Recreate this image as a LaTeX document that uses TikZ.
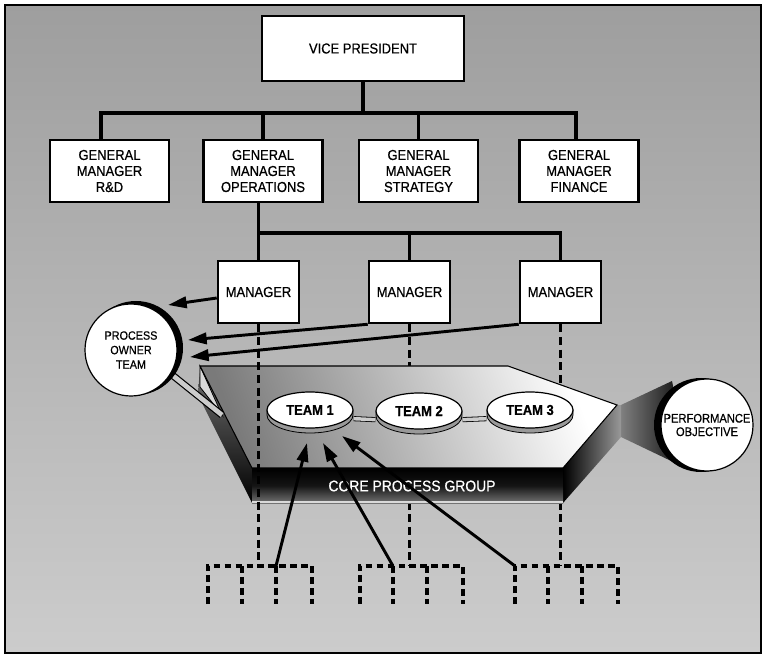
\documentclass[tikz,border=0pt]{standalone}
\usepackage{fontspec}
\newfontfamily\hv{Liberation Sans}[FakeStretch=0.9, FakeBold=0.6]
\usetikzlibrary{arrows.meta,shapes.geometric}
\pgfdeclarelayer{back}
\pgfdeclarelayer{mid}
\pgfsetlayers{back,mid,main}
\newcommand\pxl{0.75pt}

\begin{document}
\begin{tikzpicture}[x=0.75pt,y=-0.75pt,
  box/.style={draw, line width=1.9pt, fill=white, inner sep=0pt, align=center,
    font=\hv\fontsize{10.8}{12}\selectfont},
  gmbox/.style={box, minimum width=119*\pxl, minimum height=62*\pxl},
  mgrbox/.style={box, minimum width=81*\pxl, minimum height=62*\pxl},
  bus/.style={line width=2.6pt},
  dashline/.style={line width=2.4pt, dash pattern=on 6pt off 3.5pt},
  dashbar/.style={line width=2.4pt, dash pattern=on 5pt off 3.2pt},
  arr/.style={line width=2.2pt, -{Triangle[length=14pt,width=8.5pt]}},
  team/.style={ellipse, draw, line width=0.9pt, fill=white, inner sep=0pt,
    minimum width=86*\pxl, minimum height=36*\pxl,
    font=\hv\bfseries\fontsize{10.8}{12}\selectfont},
  disc/.style={circle, draw, line width=0.9pt, fill=white, inner sep=0pt,
    minimum size=92*\pxl, align=center},
  teamlink/.style={line width=0.6pt, double=black!20, double distance=2.6pt},
  side/.style={fill=black!40, draw, line width=0.6pt},
]
\useasboundingbox (0,0) rectangle (765,656);

% ---------- backdrop and frame ----------
\begin{pgfonlayer}{back}
  \fill[white] (0,0) rectangle (765,656);
  \shade[top color=black!38, bottom color=black!20] (5,5) rectangle (761,653);
  \draw[line width=1.6pt] (5,5) rectangle (761,653);
\end{pgfonlayer}

% ---------- org chart ----------
\node[box, minimum width=202*\pxl, minimum height=65*\pxl] (vp) at (363,48.5) {VICE PRESIDENT};

\node[gmbox] (gm1) at (109.5,171) {GENERAL\\MANAGER\\R\&D};
\node[gmbox] (gm2) at (263,171) {GENERAL\\MANAGER\\OPERATIONS};
\node[gmbox] (gm3) at (418.5,171) {GENERAL\\MANAGER\\STRATEGY};
\node[gmbox] (gm4) at (579,171) {GENERAL\\MANAGER\\FINANCE};

\node[mgrbox] (m1) at (258.5,292) {MANAGER};
\node[mgrbox] (m2) at (409.5,292) {MANAGER};
\node[mgrbox] (m3) at (560.5,292) {MANAGER};

\coordinate (busL) at (101,113);
\coordinate (busR) at (576,113);
\draw[bus] (vp.south) -- (vp.south |- busL);
\draw[bus] (busL |- gm1.north) -- (busL) -- (busR) -- (busR |- gm4.north);
\draw[bus] (gm2.north) -- (gm2.north |- busL);
\draw[bus] (gm3.north) -- (gm3.north |- busL);

\draw[bus] (gm2.south -| m1.north) -- (m1.north);
\draw[bus] (m1.north |- 0,233) -- (m3.north |- 0,233) -- (m3.north);
\draw[bus] (m2.north) -- (m2.north |- 0,233);

% ---------- dashed reporting lines and work groups ----------
\coordinate (g1) at (258.5,566);
\coordinate (g2) at (409.5,566);
\coordinate (g3) at (560.5,566);

\begin{pgfonlayer}{back}
  \draw[dashline] (m2.south) -- (g2);
  \draw[dashline] (m3.south) -- (g3);
\end{pgfonlayer}

\draw[dashbar] (208,604) -- (208,566) -- (312,566) -- (312,604);
\draw[dashbar] (242,566) -- (242,604);
\draw[dashbar] (276,566) -- (276,604);
\draw[dashbar] (360,604) -- (360,566) -- (463,566) -- (463,604);
\draw[dashbar] (393,566) -- (393,604);
\draw[dashbar] (427,566) -- (427,604);
\draw[dashbar] (515,604) -- (515,566) -- (618,566) -- (618,604);
\draw[dashbar] (548,566) -- (548,604);
\draw[dashbar] (582,566) -- (582,604);

% ---------- core process group prism ----------
\begin{pgfonlayer}{back}
  % cone to the performance objective
  \shade[left color=black!50, right color=black]
    (621,405) -- (672,381) -- (690,470) -- (621,437) -- cycle;
  \fill (701,425) circle[radius=47];
  % top face
  \shade[top color=black!52, bottom color=white, shading angle=110]
    (200,366) -- (508,366) -- (617,405) -- (563,468) -- (252,468) -- cycle;
  % left face
  \shade[top color=black!55, bottom color=black]
    (200,366) -- (252,468) -- (252,503) -- (198,395) -- cycle;
  \fill[black!15] (200,366) -- (200,387) -- (222,415) -- cycle;
  \draw[line width=0.6pt] (200,366) -- (200,387) -- (222,415) -- cycle;
  % right face
  \shade[left color=black, right color=black!40]
    (617,405) -- (621,405) -- (621,437) -- (563,503) -- (563,468) -- cycle;
  % front band
  \shade[top color=black, bottom color=black!55, middle color=black!92]
    (252,468) rectangle (563,503);
  \draw[black!15, line width=0.8pt] (252,502) -- (563,502);
  % edges
  \draw[line width=0.8pt]
    (200,366) -- (508,366) -- (617,405) -- (563,468) -- (252,468) -- cycle;
\end{pgfonlayer}

\node[font=\hv\fontsize{11.6}{13}\selectfont, text=white] (core) at (412,486) {CORE PROCESS GROUP};

\draw[dashline] (m1.south) -- (g1);

% ---------- teams ----------
\foreach \cx/\cy in {310/410, 419/411, 530/410}{
  \path[side] (\cx-43,\cy) -- (\cx-43,\cy+5)
    arc[start angle=180, end angle=0, x radius=43, y radius=18] -- (\cx+43,\cy) -- cycle;
}
\node[team] (t1) at (310,410) {TEAM 1};
\node[team] (t2) at (419,411) {TEAM 2};
\node[team] (t3) at (530,410) {TEAM 3};

\begin{pgfonlayer}{mid}
  \draw[teamlink] ([yshift=-6.5pt]t1.east) -- ([yshift=-6.5pt]t2.west);
  \draw[teamlink] ([yshift=-6.5pt]t2.east) -- ([yshift=-6.5pt]t3.west);
\end{pgfonlayer}

% ---------- process owner team ----------
\fill (136,348) circle[radius=47];
\node[disc, font=\hv\fontsize{9}{10.9}\selectfont] (po) at (131,350) {PROCESS\\OWNER\\TEAM};
\coordinate (tubeend) at (222,415);
\begin{pgfonlayer}{mid}
  \draw[line width=0.9pt, double=black!20, double distance=3.6pt] (po.-31) -- (tubeend);
\end{pgfonlayer}

% ---------- performance objective ----------
\node[disc, font=\hv\fontsize{9.3}{10.1}\selectfont] (perf) at (707,425) {PERFORMANCE\\OBJECTIVE};

% ---------- arrows ----------
\coordinate (pin1) at (168,305);
\coordinate (pin2) at (188,340);
\coordinate (pin3) at (190,357);
\draw[arr] ([yshift=-4.5pt]m1.west) -- (pin1);
\draw[arr] (m2.south west) -- (pin2);
\draw[arr] (m3.south west) -- (pin3);

\coordinate (s1) at (276,566);
\coordinate (s2) at (393,566);
\coordinate (s3) at (515,566);
\coordinate (e1) at (307,443);
\coordinate (e2) at (323,443);
\coordinate (e3) at (342,436);
\draw[arr] (s1) -- (e1);
\draw[arr] (s2) -- (e2);
\draw[arr] (s3) -- (e3);
\end{tikzpicture}
\end{document}
